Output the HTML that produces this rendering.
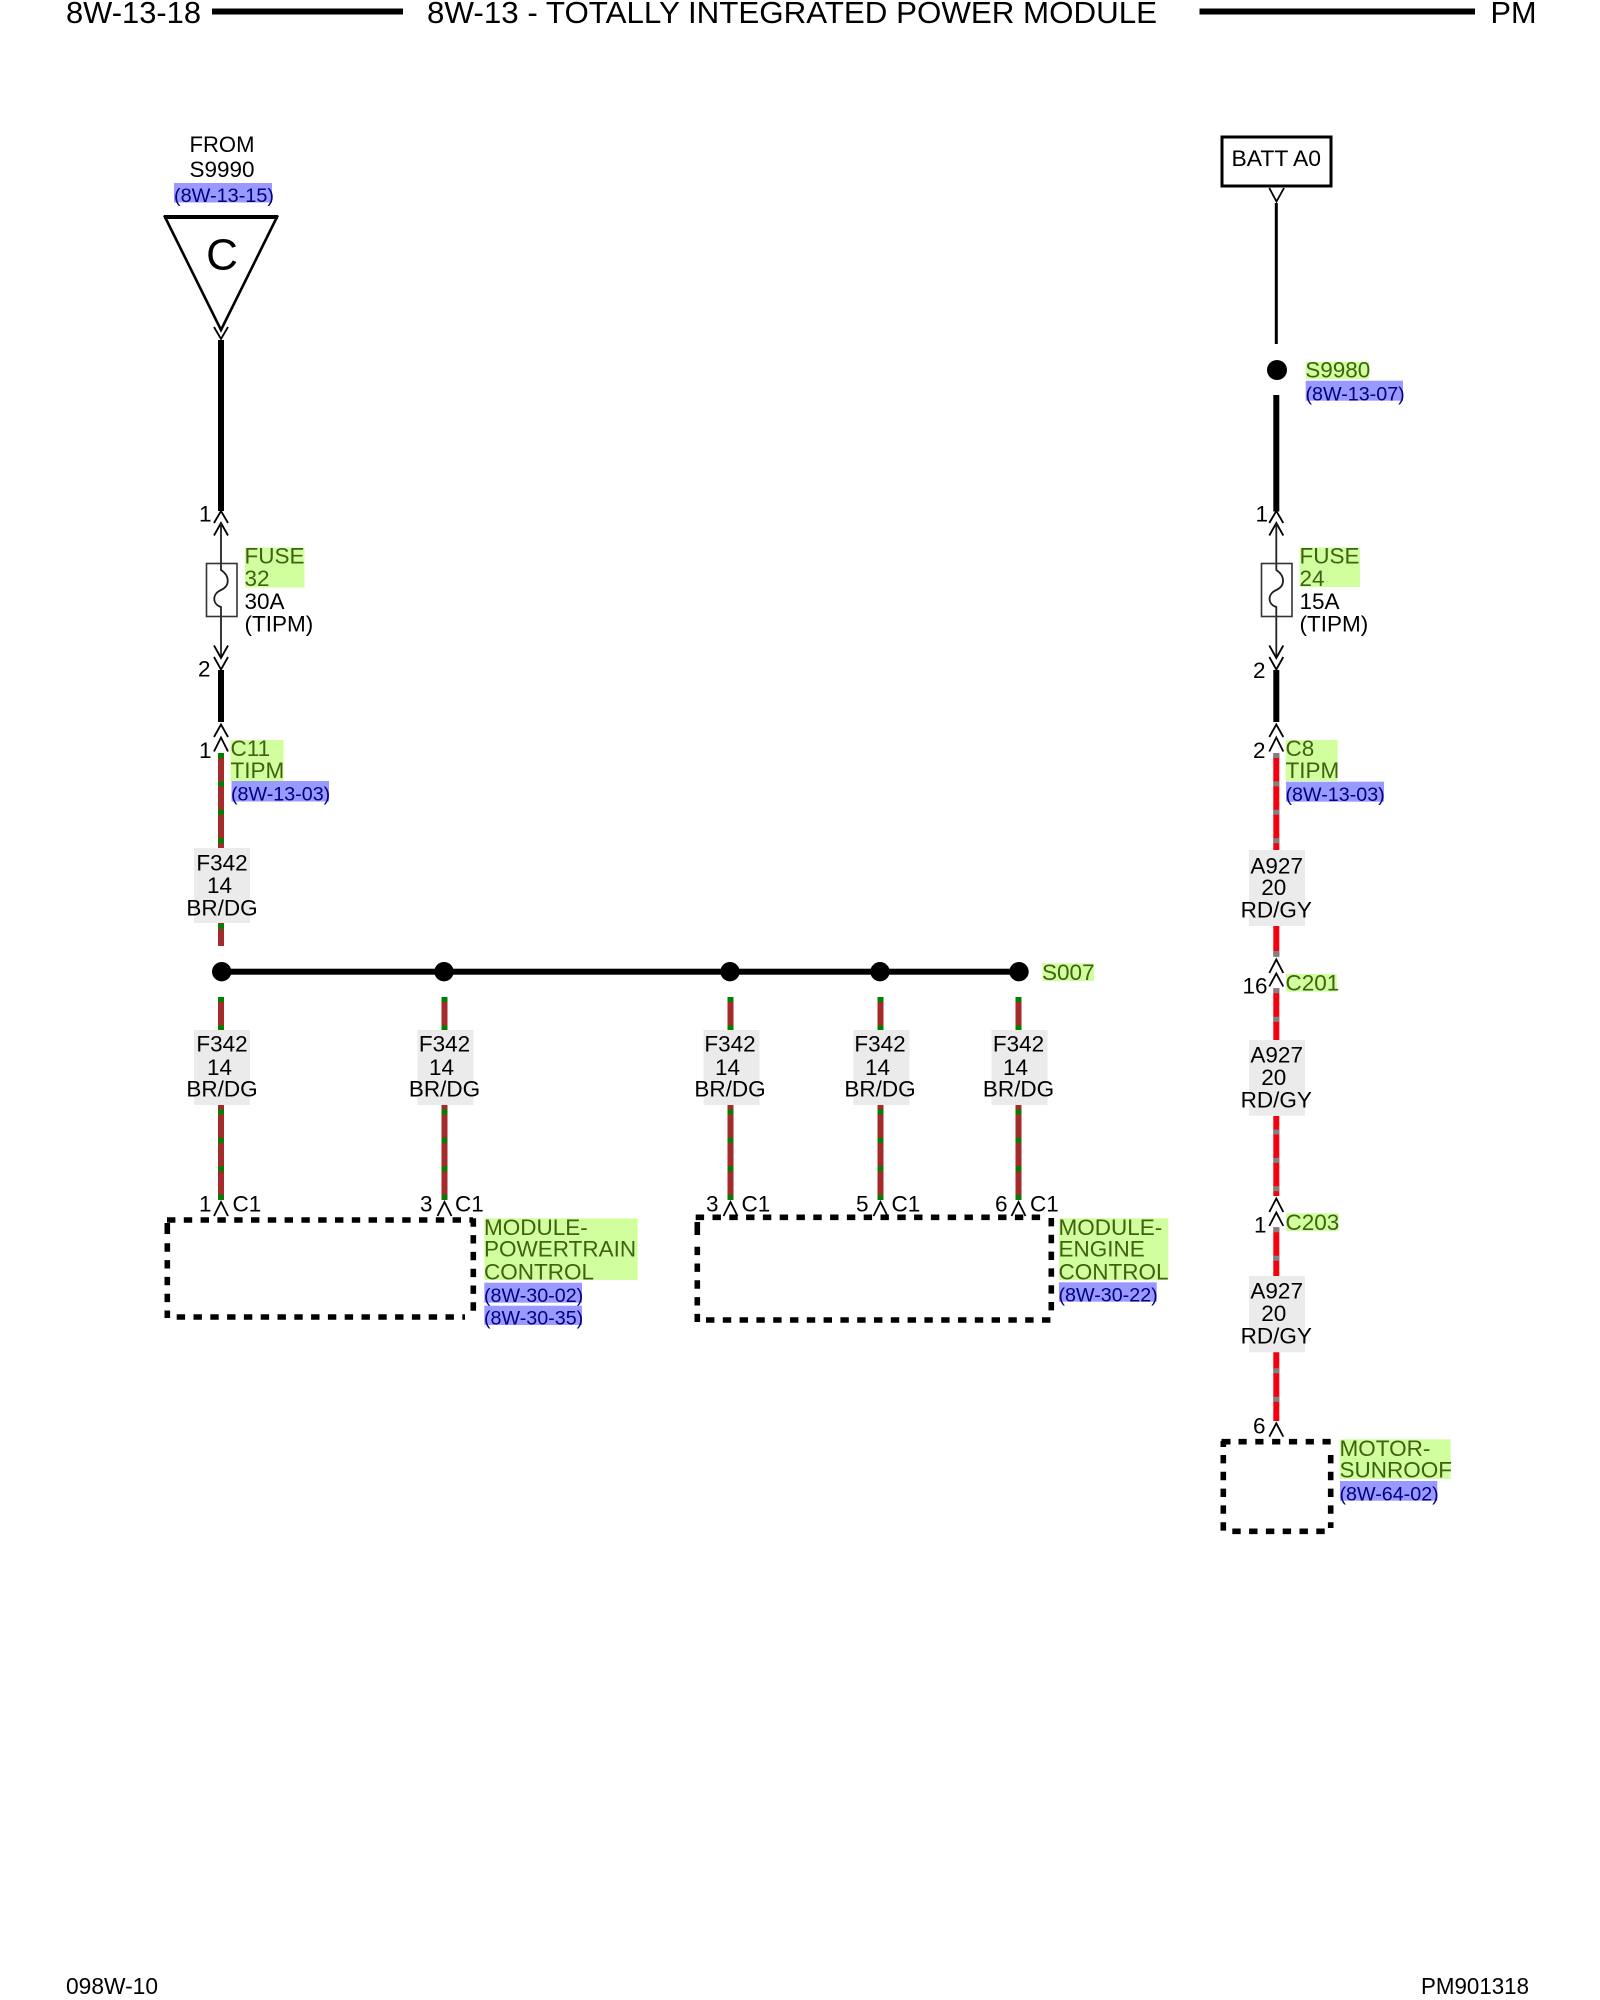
<!DOCTYPE html>
<html><head><meta charset="utf-8"><title>8W-13-18</title>
<style>
html,body{margin:0;padding:0;background:#fff}
svg{display:block}
text{font-family:"Liberation Sans",Arial,sans-serif;font-size:22.5px;fill:#000}
.g{fill:#3f6212}.r{fill:#000080;font-size:19.7px}.m{text-anchor:middle}
.gb{fill:#d2ff9e}.bb{fill:#9999ff}.lb{fill:#ebebeb}
.c{fill:none;stroke:#000;stroke-width:1.8}
.br{stroke:#a52a2a;stroke-width:6;fill:none}
.dg{stroke:#008000;stroke-width:6;fill:none;stroke-dasharray:5 23.4}
.rd{stroke:#f5000f;stroke-width:6;fill:none}
.gy{stroke:#808080;stroke-width:6;fill:none;stroke-dasharray:5 23.4}
.k{stroke:#000;fill:none}
.d{stroke:#000;stroke-width:5.6;fill:none;stroke-dasharray:8.4 8.4}
</style></head><body>
<svg width="1600" height="2000" viewBox="0 0 1600 2000" xmlns="http://www.w3.org/2000/svg">
<rect width="1600" height="2000" fill="#fff"/>

<!-- header -->
<text x="66" y="23" style="font-size:30.5px" textLength="135" lengthAdjust="spacingAndGlyphs">8W-13-18</text>
<rect x="212" y="8.5" width="191" height="6" fill="#000"/>
<text x="427" y="23" style="font-size:30.5px" textLength="730" lengthAdjust="spacingAndGlyphs">8W-13 - TOTALLY INTEGRATED POWER MODULE</text>
<rect x="1199.5" y="8.5" width="275.5" height="6" fill="#000"/>
<text x="1490.5" y="23" style="font-size:30.5px" textLength="46" lengthAdjust="spacingAndGlyphs">PM</text>

<!-- left source -->
<text x="222" y="152" class="m" textLength="65" lengthAdjust="spacingAndGlyphs">FROM</text>
<text x="222" y="177" class="m" textLength="65" lengthAdjust="spacingAndGlyphs">S9990</text>
<rect x="174" y="183" width="98" height="19.5" class="bb"/>
<text x="174" y="202" class="r" textLength="100" lengthAdjust="spacingAndGlyphs">(8W-13-15)</text>
<path d="M165,217 L277,217 L221,330 Z" fill="#fff" stroke="#000" stroke-width="2.6" stroke-linejoin="miter"/>
<rect x="164" y="215" width="114" height="4" fill="#000"/>
<text x="222" y="269.5" class="m" style="font-size:44px">C</text>
<path d="M214,327 L221,339 L228,327" class="c"/>
<rect x="218" y="340" width="6" height="171" fill="#000"/>

<!-- left fuse -->
<text x="199" y="521.5">1</text>
<path d="M214,523 L221,511 L228,523" class="c"/>
<path d="M214,535.5 L221,523 L228,535.5" class="c"/>
<path d="M221,523 L221,570 C230,576 230,586 221,590 C212,594 212,604 221,607 L221,657" fill="none" stroke="#222" stroke-width="1.8"/>
<rect x="206.5" y="563.5" width="30.5" height="53" fill="none" stroke="#333" stroke-width="1.6"/>
<rect x="245" y="547.5" width="59.5" height="40" class="gb"/>
<text x="244.5" y="563.5" class="g">FUSE</text>
<text x="244.5" y="586" class="g">32</text>
<text x="244.5" y="609">30A</text>
<text x="244.5" y="631.5">(TIPM)</text>
<path d="M214,645.5 L221,658 L228,645.5" class="c"/>
<path d="M214,657 L221,669.5 L228,657" class="c"/>
<text x="198" y="676.5">2</text>
<rect x="218" y="670" width="6" height="52" fill="#000"/>
<path d="M214,737 L221,724.5 L228,737" class="c"/>
<path d="M214,751.5 L221,737.5 L228,751.5" class="c"/>
<text x="199" y="758">1</text>
<rect x="230.5" y="740" width="53" height="41" class="gb"/>
<text x="230.5" y="756" class="g">C11</text>
<text x="230.5" y="778" class="g">TIPM</text>
<rect x="231.5" y="781" width="97.5" height="20.5" class="bb"/>
<text x="231" y="800.5" class="r">(8W-13-03)</text>

<path d="M221,753V848" class="br"/><path d="M221,753V848" class="dg"/>
<rect x="194" y="848" width="56" height="75" class="lb"/>
<text x="222" y="870.5" class="m">F342</text><text x="219.5" y="893" class="m">14</text><text x="222" y="915.5" class="m">BR/DG</text>
<path d="M221,923V946" class="br"/><path d="M221,924V929" stroke="#008000" stroke-width="6"/>

<!-- S007 bus -->
<rect x="221" y="968.7" width="798" height="6" fill="#000"/>
<circle cx="221.7" cy="971.7" r="9.7"/><circle cx="444" cy="971.7" r="9.7"/><circle cx="730" cy="971.7" r="9.7"/><circle cx="880" cy="971.7" r="9.7"/><circle cx="1019" cy="971.7" r="9.7"/>
<rect x="1042.3" y="963.3" width="51.7" height="17.7" class="gb"/>
<text x="1042" y="980" class="g">S007</text>

<!-- branch wires -->
<g>
<path d="M221,997V1030M221,1105V1200" class="br"/><path d="M221,997V1030" class="dg"/><path d="M221,1109.5V1200" class="dg"/>
<rect x="194" y="1030" width="56" height="75" class="lb"/>
<text x="222" y="1051.5" class="m">F342</text><text x="219.5" y="1075" class="m">14</text><text x="222" y="1096.5" class="m">BR/DG</text>
<path d="M214,1216 L221,1202 L228,1216" class="c"/>
</g>
<g transform="translate(223.5,0)">
<path d="M221,997V1030M221,1105V1200" class="br"/><path d="M221,997V1030" class="dg"/><path d="M221,1109.5V1200" class="dg"/>
<rect x="194" y="1030" width="56" height="75" class="lb"/>
<text x="221" y="1051.5" class="m">F342</text><text x="218" y="1075" class="m">14</text><text x="221" y="1096.5" class="m">BR/DG</text>
<path d="M214,1216 L221,1202 L228,1216" class="c"/>
</g>
<g transform="translate(509.5,0)">
<path d="M221,997V1030M221,1105V1200" class="br"/><path d="M221,997V1030" class="dg"/><path d="M221,1109.5V1200" class="dg"/>
<rect x="194" y="1030" width="56" height="75" class="lb"/>
<text x="220.5" y="1051.5" class="m">F342</text><text x="218" y="1075" class="m">14</text><text x="220.5" y="1096.5" class="m">BR/DG</text>
<path d="M214,1216 L221,1202 L228,1216" class="c"/>
</g>
<g transform="translate(659.5,0)">
<path d="M221,997V1030M221,1105V1200" class="br"/><path d="M221,997V1030" class="dg"/><path d="M221,1109.5V1200" class="dg"/>
<rect x="194" y="1030" width="56" height="75" class="lb"/>
<text x="220.5" y="1051.5" class="m">F342</text><text x="218" y="1075" class="m">14</text><text x="220.5" y="1096.5" class="m">BR/DG</text>
<path d="M214,1216 L221,1202 L228,1216" class="c"/>
</g>
<g transform="translate(797.5,0)">
<path d="M221,997V1030M221,1105V1200" class="br"/><path d="M221,997V1030" class="dg"/><path d="M221,1109.5V1200" class="dg"/>
<rect x="194" y="1030" width="56" height="75" class="lb"/>
<text x="221" y="1051.5" class="m">F342</text><text x="218" y="1075" class="m">14</text><text x="221" y="1096.5" class="m">BR/DG</text>
<path d="M214,1216 L221,1202 L228,1216" class="c"/>
</g>

<text x="199" y="1211.5">1</text><text x="232.5" y="1211.5">C1</text>
<text x="420" y="1211.5">3</text><text x="455" y="1211.5">C1</text>
<text x="706" y="1211.5">3</text><text x="741.5" y="1211.5">C1</text>
<text x="856" y="1211.5">5</text><text x="891.5" y="1211.5">C1</text>
<text x="995" y="1211.5">6</text><text x="1030" y="1211.5">C1</text>

<!-- dashed box 1 -->
<path d="M167,1220H473" class="d"/>
<path d="M473.3,1218.3V1312" class="d"/>
<path d="M176.7,1317H465" class="d"/>
<path d="M167.3,1223V1234" class="d" style="stroke-dasharray:none"/>
<path d="M167.3,1243.3V1318" class="d"/>
<rect x="484.3" y="1218.3" width="153.4" height="61.7" class="gb"/>
<text x="484" y="1235" class="g">MODULE-</text><text x="484" y="1256.7" class="g">POWERTRAIN</text><text x="484" y="1279.3" class="g">CONTROL</text>
<rect x="484.3" y="1282.7" width="97.7" height="20" class="bb"/>
<text x="484" y="1302" class="r">(8W-30-02)</text>
<rect x="484.3" y="1305.7" width="97.7" height="19.3" class="bb"/>
<text x="484" y="1324.5" class="r">(8W-30-35)</text>

<!-- dashed box 2 -->
<path d="M695.7,1217.3H1045" class="d"/>
<path d="M1051.3,1218V1312" class="d"/>
<path d="M706,1320H1053" class="d"/>
<path d="M697.3,1222V1235" class="d" style="stroke-dasharray:none"/>
<path d="M697.3,1246.7V1322" class="d"/>
<rect x="1059" y="1218.3" width="109.3" height="61.7" class="gb"/>
<text x="1058.5" y="1235" class="g">MODULE-</text><text x="1058.5" y="1256.7" class="g">ENGINE</text><text x="1058.5" y="1279.3" class="g">CONTROL</text>
<rect x="1059" y="1282.3" width="97.7" height="19.4" class="bb"/>
<text x="1058.5" y="1301.5" class="r">(8W-30-22)</text>

<!-- right column -->
<rect x="1222" y="137" width="109" height="49" fill="none" stroke="#000" stroke-width="3"/>
<text x="1231.5" y="166" textLength="89.5" lengthAdjust="spacingAndGlyphs">BATT A0</text>
<path d="M1269.3,188 L1276.5,201.5 L1284,188" class="c"/>
<rect x="1274.8" y="203" width="3" height="141" fill="#000"/>
<circle cx="1277" cy="370" r="10"/>
<rect x="1305.7" y="361.7" width="63.3" height="17.6" class="gb"/>
<text x="1305.2" y="377.3" class="g">S9980</text>
<rect x="1305.7" y="380.7" width="97.3" height="20" class="bb"/>
<text x="1305.5" y="400.5" class="r">(8W-13-07)</text>
<rect x="1273.3" y="395" width="6" height="116.5" fill="#000"/>

<text x="1255.5" y="521.5">1</text>
<path d="M1269.3,523 L1276.3,511 L1283.3,523" class="c"/>
<path d="M1269.3,535.5 L1276.3,523 L1283.3,535.5" class="c"/>
<path d="M1276.3,523 L1276.3,570 C1285.3,576 1285.3,586 1276.3,590 C1267.3,594 1267.3,604 1276.3,607 L1276.3,657" fill="none" stroke="#222" stroke-width="1.8"/>
<rect x="1261.5" y="563.5" width="30.5" height="53" fill="none" stroke="#333" stroke-width="1.6"/>
<rect x="1299.7" y="547.5" width="60.3" height="39.5" class="gb"/>
<text x="1299.5" y="563.5" class="g">FUSE</text>
<text x="1299.5" y="586" class="g">24</text>
<text x="1299.5" y="609">15A</text>
<text x="1299.5" y="631.5">(TIPM)</text>
<path d="M1269.3,645.5 L1276.3,658 L1283.3,645.5" class="c"/>
<path d="M1269.3,657 L1276.3,669.5 L1283.3,657" class="c"/>
<text x="1253" y="678">2</text>
<rect x="1273.3" y="670" width="6" height="52" fill="#000"/>
<path d="M1269.3,737 L1276.3,724.5 L1283.3,737" class="c"/>
<path d="M1269.3,751.5 L1276.3,737.5 L1283.3,751.5" class="c"/>
<text x="1253" y="758">2</text>
<rect x="1285.7" y="740" width="52" height="41" class="gb"/>
<text x="1285.5" y="756" class="g">C8</text>
<text x="1285.5" y="778" class="g">TIPM</text>
<rect x="1286" y="781.7" width="98" height="20" class="bb"/>
<text x="1285.5" y="801" class="r">(8W-13-03)</text>

<path d="M1276.3,753V850" class="rd"/><path d="M1276.3,753V850" class="gy"/>
<rect x="1249" y="850" width="56" height="76" class="lb"/>
<text x="1276.7" y="873.3" class="m">A927</text><text x="1273.8" y="895" class="m">20</text><text x="1276.3" y="917.7" class="m">RD/GY</text>
<path d="M1276.3,926V956.7" class="rd"/><path d="M1276.3,951V956.7" stroke="#808080" stroke-width="6"/>
<path d="M1269.3,973 L1276.3,959.5 L1283.3,973" class="c"/>
<path d="M1269.3,986.5 L1276.3,973.5 L1283.3,986.5" class="c"/>
<text x="1242.5" y="993.3">16</text>
<rect x="1286" y="974" width="50.7" height="17.7" class="gb"/>
<text x="1285.5" y="990.7" class="g">C201</text>

<path d="M1276.3,988.3V1040" class="rd"/><path d="M1276.3,988.3V1040" class="gy"/>
<rect x="1249" y="1040" width="56" height="75.7" class="lb"/>
<text x="1276.7" y="1062.7" class="m">A927</text><text x="1273.8" y="1085" class="m">20</text><text x="1276.3" y="1107.3" class="m">RD/GY</text>
<path d="M1276.3,1116V1196" class="rd"/><path d="M1276.3,1129.5V1196" class="gy"/>
<path d="M1269.3,1212 L1276.3,1198.5 L1283.3,1212" class="c"/>
<path d="M1269.3,1226 L1276.3,1212.5 L1283.3,1226" class="c"/>
<text x="1254" y="1232.7">1</text>
<rect x="1286" y="1213.3" width="52.7" height="17.7" class="gb"/>
<text x="1285.5" y="1230" class="g">C203</text>

<path d="M1276.3,1227.3V1276" class="rd"/><path d="M1276.3,1227.3V1276" class="gy"/>
<rect x="1249" y="1276" width="56" height="76.3" class="lb"/>
<text x="1276.7" y="1298.7" class="m">A927</text><text x="1273.8" y="1321" class="m">20</text><text x="1276.3" y="1343.3" class="m">RD/GY</text>
<path d="M1276.3,1352.3V1421" class="rd"/><path d="M1276.3,1368.3V1421" class="gy"/>
<path d="M1269.3,1436.7 L1276.3,1423.3 L1283.3,1436.7" class="c"/>
<text x="1253" y="1433.3">6</text>

<!-- dashed box 3 -->
<path d="M1221.5,1441.7H1333" class="d" style="stroke-dasharray:9 8 8.2 8.6 8.2 8.6 8.2 8.6 8.2 8.6 8.2 8.6 8.2 8.6"/>
<path d="M1330.7,1455V1528" class="d"/>
<path d="M1232.3,1531.3H1325" class="d"/>
<path d="M1223.3,1441V1447" class="d" style="stroke-dasharray:none"/>
<path d="M1223.3,1455V1533" class="d"/>
<rect x="1339.7" y="1439.3" width="111" height="39.7" class="gb"/>
<text x="1339.5" y="1456" class="g">MOTOR-</text><text x="1339.5" y="1477.3" class="g">SUNROOF</text>
<rect x="1340" y="1481" width="97.3" height="19.7" class="bb"/>
<text x="1339.5" y="1500.5" class="r">(8W-64-02)</text>

<!-- footer -->
<text x="66" y="1994" style="font-size:23px" textLength="92" lengthAdjust="spacingAndGlyphs">098W-10</text>
<text x="1421" y="1994" style="font-size:23px" textLength="108" lengthAdjust="spacingAndGlyphs">PM901318</text>
</svg>
</body></html>
